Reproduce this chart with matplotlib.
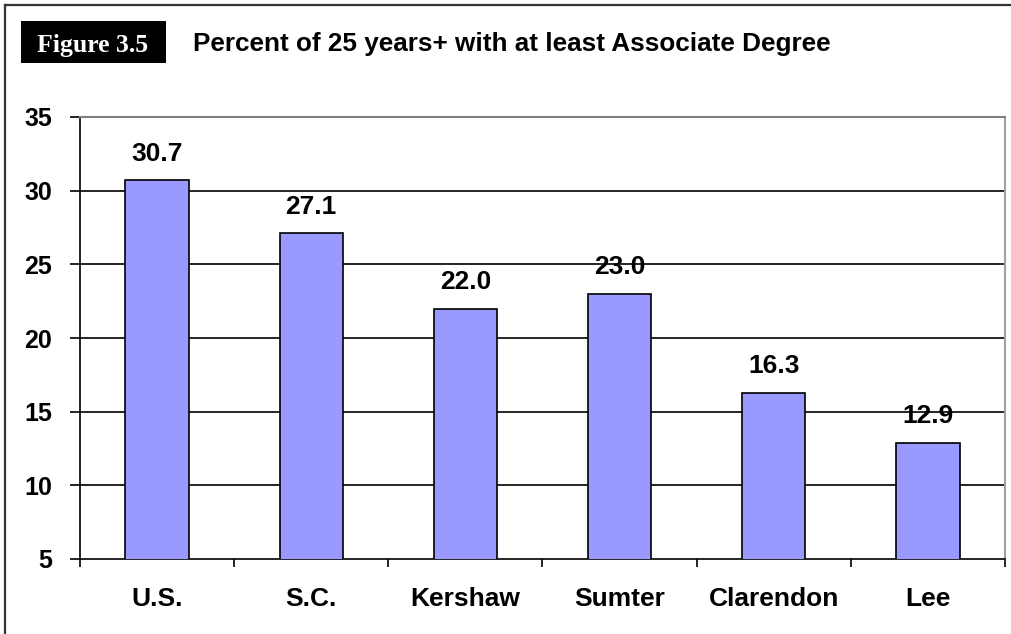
import matplotlib.pyplot as plt
from matplotlib.patches import Rectangle
from matplotlib.lines import Line2D

places = ["U.S.", "S.C.", "Kershaw", "Sumter", "Clarendon", "Lee"]
pct = [30.7, 27.1, 22.0, 23.0, 16.3, 12.9]
yticks = [5, 10, 15, 20, 25, 30, 35]

W, H = 1012, 634
fig = plt.figure(figsize=(W / 100, H / 100), dpi=100)
fig.patch.set_facecolor("white")

# outer frame (only top and left visible in the crop)
fig.add_artist(Line2D([5 / W, 5 / W], [0, 1 - 5 / H], color="#333333", lw=1.6))
fig.add_artist(Line2D([5 / W, 1], [1 - 5 / H, 1 - 5 / H], color="#333333", lw=1.6))

# figure label box
fig.add_artist(Rectangle((21 / W, 1 - 63 / H), 145 / W, 42 / H,
                         facecolor="black", edgecolor="none"))
fig.text(93 / W, 1 - 52 / H, "Figure 3.5", color="white", fontsize=18.5,
         fontweight="bold", family="Liberation Serif", ha="center", va="baseline")
fig.text(193 / W, 1 - 51 / H, "Percent of 25 years+ with at least Associate Degree",
         fontsize=18.8, fontweight="bold", family="Liberation Sans", va="baseline")

ax = fig.add_axes([80 / W, 1 - 559 / H, 925 / W, 442 / H])
x = range(len(places))
bars = ax.bar(x, pct, width=0.41, bottom=0, color="#9999FF",
              edgecolor="black", linewidth=1.2, zorder=3)
ax.set_ylim(5, 35)
ax.set_xlim(-0.5, len(places) - 0.5)
ax.set_yticks(yticks)
for y in yticks[1:-1]:
    ax.axhline(y, color="black", lw=1.2, zorder=1)

for b, v in zip(bars, pct):
    ax.annotate(f"{v:.1f}", (b.get_x() + b.get_width() / 2, v),
                xytext=(0, 14), textcoords="offset points", ha="center",
                va="baseline", fontsize=19, fontweight="bold",
                family="Liberation Sans")

ax.set_xticks([i + 0.5 for i in range(-1, len(places))], minor=True)
ax.set_xticks(list(x))
ax.set_xticklabels(places)
ax.tick_params(axis="x", which="major", length=0, pad=20)
ax.tick_params(axis="x", which="minor", length=6, width=1.2, direction="out")
ax.tick_params(axis="y", length=7, width=1.2, pad=13)
for lab in ax.get_xticklabels():
    lab.set_fontsize(19)
    lab.set_fontweight("bold")
    lab.set_family("Liberation Sans")
for lab in ax.get_yticklabels():
    lab.set_fontsize(18)
    lab.set_fontweight("bold")
    lab.set_family("Liberation Sans")

ax.spines["left"].set_linewidth(1.2)
ax.spines["bottom"].set_linewidth(1.2)
ax.spines["top"].set_color("#808080")
ax.spines["right"].set_color("#a0a0a0")
ax.spines["top"].set_linewidth(1.5)
ax.spines["right"].set_linewidth(1.5)

fig.savefig("out.png", dpi=100)
